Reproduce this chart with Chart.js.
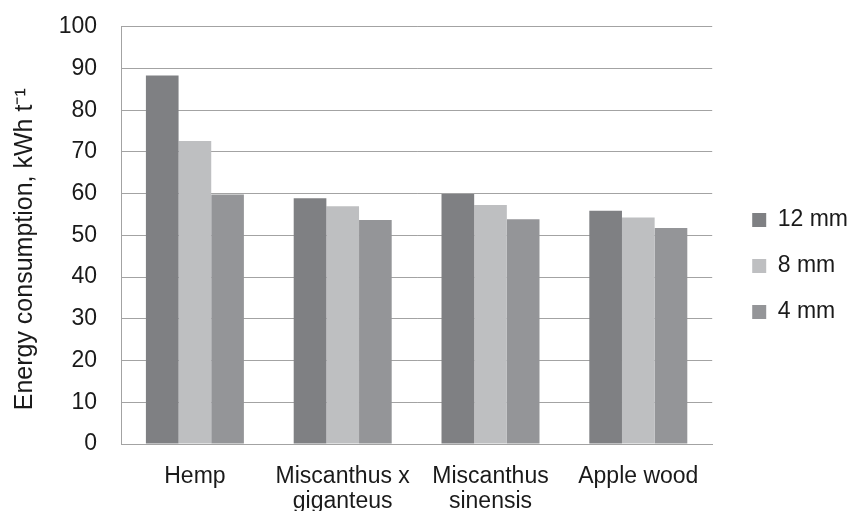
<!DOCTYPE html>
<html>
<head>
<meta charset="utf-8">
<script src="https://cdn.jsdelivr.net/npm/chart.js@4.4.1/dist/chart.umd.min.js"></script>
<style>
    html, body { margin: 0; padding: 0; background: #fff; }
    #wrap { width: 856px; height: 512px; }
</style>
</head>
<body>
<div id="wrap"><canvas id="energyChart"></canvas></div>
<script>
// Chart data
const categories = [['Hemp'], ['Miscanthus x', 'giganteus'], ['Miscanthus', 'sinensis'], ['Apple wood']];
const seriesNames = ['12 mm', '8 mm', '4 mm'];
const values12mm = [88.3, 58.9, 59.9, 55.9];
const values8mm = [72.6, 57.0, 57.3, 54.3];
const values4mm = [59.8, 53.7, 53.9, 51.8];
const seriesColors = ['#7f8083', '#bebfc1', '#949598'];
const yMin = 0, yMax = 100, yStep = 10;

const fontFamily = "'Liberation Sans', Arial, sans-serif";
const textColor = '#1a1a1a';
const gridColor = '#a3a3a3';

// push legend a little away from the plot area
const legendShift = {
    id: 'legendShift',
    afterLayout(chart) {
        if (!chart.legend) return;
        chart.legend.left += 17;
        chart.legend.right += 17;
    }
};

const ctx = document.getElementById('energyChart');
new Chart(ctx, {
    type: 'bar',
    data: {
        labels: categories,
        datasets: [values12mm, values8mm, values4mm].map((vals, i) => ({
            label: seriesNames[i],
            data: vals,
            backgroundColor: seriesColors[i],
            borderWidth: 0,
            barPercentage: 1.0,
            categoryPercentage: 0.663
        }))
    },
    options: {
        responsive: true,
        maintainAspectRatio: false,
        animation: false,
        layout: {
            padding: { top: 21, bottom: 1, left: 9, right: 15 }
        },
        plugins: {
            legend: {
                position: 'right',
                labels: {
                    boxWidth: 14,
                    boxHeight: 14,
                    padding: 23,
                    color: textColor,
                    font: { family: fontFamily, size: 23 }
                }
            },
            tooltip: { enabled: false }
        },
        scales: {
            x: {
                grid: { display: false, drawTicks: false, tickLength: 0 },
                border: { display: true, color: gridColor, width: 1 },
                ticks: {
                    color: textColor,
                    padding: 20,
                    maxRotation: 0,
                    autoSkip: false,
                    font: { family: fontFamily, size: 23, lineHeight: 1.09 }
                },
                afterFit(scale) { scale.height = 67; }
            },
            y: {
                min: yMin,
                max: yMax,
                grid: {
                    color: gridColor,
                    lineWidth: 1,
                    drawTicks: true,
                    tickLength: 11,
                    tickColor: 'rgba(0,0,0,0)'
                },
                border: { display: true, color: gridColor, width: 1 },
                ticks: {
                    stepSize: yStep,
                    color: textColor,
                    padding: 13,
                    font: { family: fontFamily, size: 23 }
                },
                title: {
                    display: true,
                    text: 'Energy consumption, kWh t\u207B\u00B9    ',
                    color: textColor,
                    padding: { top: 1, bottom: 0 },
                    font: { family: fontFamily, size: 25 }
                },
                afterFit(scale) { scale.width = 112; }
            }
        }
    },
    plugins: [legendShift]
});
</script>
</body>
</html>
